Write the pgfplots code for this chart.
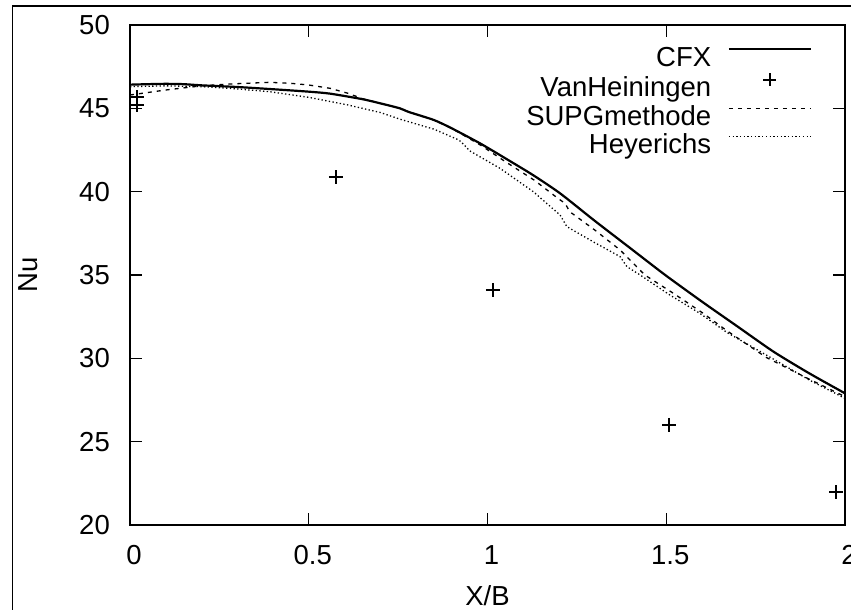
\documentclass[border=0pt]{standalone}
\usepackage{fontspec}
\setmainfont{Liberation Sans}
\usepackage{pgfplots}
\pgfplotsset{compat=1.18}

% legend samples: a long line, or a single mark in its middle
\pgfplotsset{
  linesample/.style={legend image code/.code={\draw[##1] (0bp,10bp) -- (82bp,10bp);}},
  marksample/.style={legend image code/.code={\draw[##1, mark size=6.5bp] plot coordinates {(41bp,10bp)};}},
}

% Nusselt number along the wall, four data sets
\pgfplotstableread{
x      y
0.000  46.42
0.050  46.45
0.100  46.47
0.150  46.45
0.200  46.38
0.300  46.28
0.390  46.16
0.500  46.00
0.560  45.88
0.650  45.55
0.700  45.30
0.755  45.00
0.780  44.78
0.850  44.30
0.900  43.80
0.979  42.90
1.050  42.00
1.127  41.00
1.203  39.90
1.300  38.25
1.400  36.60
1.497  35.00
1.600  33.40
1.700  31.90
1.800  30.40
1.900  29.10
2.000  27.90
}\cfx

\pgfplotstableread{
x      y
0.019  45.65
0.019  45.20
0.576  40.85
1.015  34.10
1.508  26.00
1.975  21.96
}\vanheiningen

\pgfplotstableread{
x      y
0.000  45.80
0.050  45.95
0.100  46.10
0.140  46.20
0.200  46.35
0.280  46.46
0.390  46.56
0.450  46.50
0.500  46.40
0.560  46.20
0.610  45.90
0.650  45.58
0.700  45.30
0.755  45.00
0.780  44.78
0.850  44.30
0.900  43.80
0.980  42.80
1.050  41.80
1.130  40.70
1.200  39.55
1.217  39.30
1.230  38.80
1.300  37.70
1.371  36.50
1.440  35.00
1.520  33.90
1.600  32.75
1.670  31.65
1.780  30.05
1.900  28.75
2.000  27.70
}\supg

\pgfplotstableread{
x      y
0.000  46.30
0.100  46.35
0.200  46.30
0.280  46.20
0.390  46.00
0.500  45.66
0.610  45.20
0.700  44.75
0.755  44.35
0.850  43.75
0.920  43.10
0.935  42.80
0.950  42.45
1.035  41.40
1.128  40.00
1.203  38.60
1.222  37.90
1.295  37.00
1.371  36.10
1.390  35.50
1.427  35.00
1.510  33.80
1.594  32.70
1.670  31.55
1.800  29.95
1.900  28.70
2.000  27.60
}\heyerichs

\begin{document}
\fontsize{27.5bp}{33bp}\selectfont
\begin{tikzpicture}
\begin{axis}[
  at={(130bp,85bp)}, anchor=south west,
  scale only axis, width=715bp, height=500bp,
  xmin=0, xmax=2, ymin=20, ymax=50,
  xtick={0,0.5,1,1.5,2}, ytick={20,25,30,35,40,45,50},
  tick align=inside, xtick pos=both, ytick pos=both,
  major tick length=12bp,
  axis line style={line width=1.3bp},
  every tick/.style={line width=1.3bp, black},
  /pgf/number format/assume math mode=true,
  xticklabel style={inner sep=0pt, yshift=-20bp, xshift=4bp},
  yticklabel style={inner sep=0pt, xshift=-20bp},
  xlabel={X/B}, ylabel={Nu},
  xlabel style={at={(axis description cs:0.5,-0.141)}, anchor=center,
    text height=19.7bp, text depth=0bp, inner sep=0pt},
  ylabel style={at={(axis description cs:-0.1434,0.5)}, anchor=center,
    text height=19.7bp, text depth=0bp, inner sep=0pt},
  legend cell align=right, legend plot pos=right,
  legend style={at={(0.954,0.961)}, anchor=north east, draw=none, fill=none,
    inner sep=0pt, row sep=0pt, column sep=15bp,
    nodes={inner sep=1.5bp, text height=20bp, text depth=5.5bp}},
]
\addplot[black, line width=2.2bp, smooth, tension=0.4, linesample] table {\cfx};
\addlegendentry{CFX}
\addplot[black, only marks, mark=+, mark size=7bp, line width=2bp, marksample]
  table {\vanheiningen};
\addlegendentry{VanHeiningen}
\addplot[black, line width=1.3bp, dash pattern=on 4bp off 5bp, linesample]
  table {\supg};
\addlegendentry{SUPGmethode}
\addplot[black, line width=1.3bp, dash pattern=on 1.3bp off 2.4bp, linesample]
  table {\heyerichs};
\addlegendentry{Heyerichs}
\end{axis}
% outer frame of the figure
\draw[line width=1.4bp] (12.7bp,-10bp) -- (12.7bp,604bp) -- (880bp,604bp);
\pgfresetboundingbox
\path[use as bounding box] (0bp,0bp) rectangle (851bp,610bp);
\end{tikzpicture}
\end{document}
